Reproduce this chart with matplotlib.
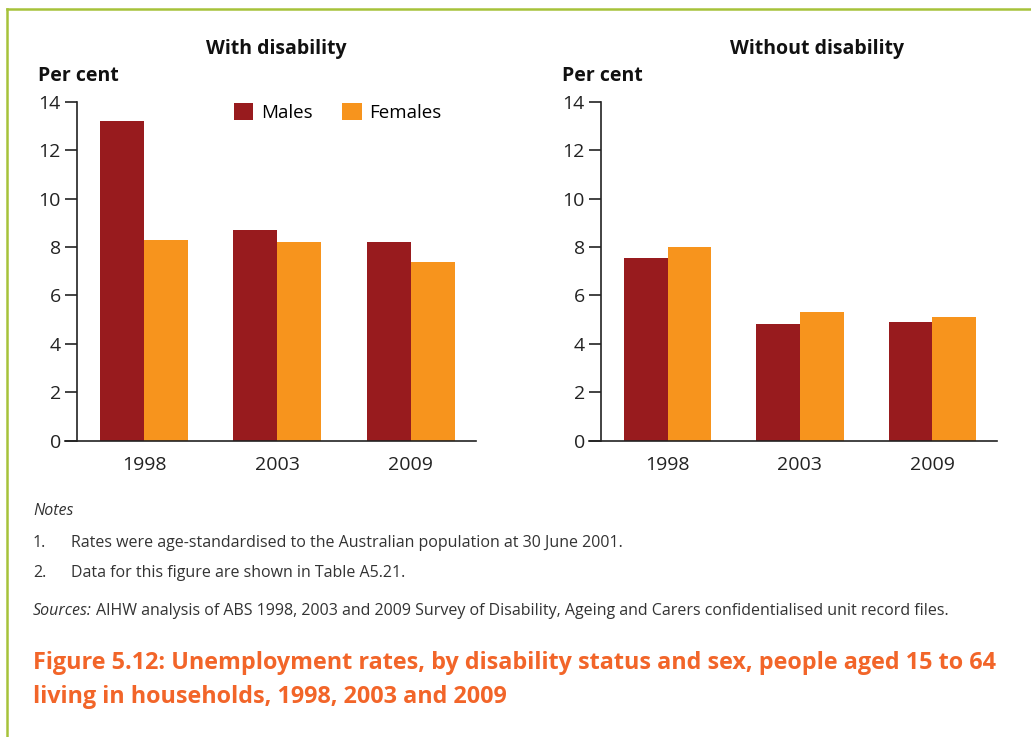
import matplotlib
matplotlib.use("Agg")
import matplotlib.pyplot as plt
from matplotlib.lines import Line2D
import numpy as np

years = ["1998", "2003", "2009"]
with_males = [13.2, 8.7, 8.2]
with_females = [8.3, 8.2, 7.4]
without_males = [7.55, 4.8, 4.9]
without_females = [8.0, 5.3, 5.1]
yticks = [0, 2, 4, 6, 8, 10, 12, 14]

MALE = "#981b1e"
FEMALE = "#f7941d"
CAPTION = "#f26529"
GREEN = "#a6c23a"
FONT = ["Open Sans", "DejaVu Sans"]
plt.rcParams["font.family"] = FONT

W, H = 1031, 737
fig = plt.figure(figsize=(W / 100, H / 100), dpi=100)


def fx(px):
    return px / W


def fy(py):
    return 1 - py / H


def panel(left_px, right_px, males, females, title, title_x, legend):
    ax = fig.add_axes([fx(left_px), fy(440.7), fx(right_px - left_px), (440.7 - 101.7) / H])
    x = np.arange(len(years))
    bw = 0.33
    ax.bar(x - bw / 2, males, bw, color=MALE, label="Males", zorder=2)
    ax.bar(x + bw / 2, females, bw, color=FEMALE, label="Females", zorder=2)
    ax.set_ylim(0, 14)
    ax.set_xlim(-0.594, 2.49)
    ax.set_yticks(yticks)
    ax.set_xticks(x)
    ax.set_xticklabels(years)
    for s in ["top", "right"]:
        ax.spines[s].set_visible(False)
    ax.spines["left"].set_position(("data", -0.505))
    ax.spines["left"].set_bounds(0, 14)
    ax.spines["left"].set_linewidth(1.2)
    ax.spines["bottom"].set_linewidth(1.2)
    ax.spines["left"].set_color("#222222")
    ax.spines["bottom"].set_color("#222222")
    ax.tick_params(axis="y", direction="out", length=8.5, width=1.2, pad=3,
                   labelsize=14, colors="#222222")
    ax.tick_params(axis="x", length=0, pad=11, labelsize=14, colors="#222222")
    ax.patch.set_alpha(0)
    fig.text(fx(title_x), fy(49), title, ha="center", va="center",
             fontsize=14, fontweight="bold", color="#111111")
    fig.text(fx(left_px - 27), fy(76), "Per cent", ha="left", va="center",
             fontsize=14, fontweight="bold", color="#111111")
    if legend:
        ax.legend(loc="upper left",
                  bbox_to_anchor=((226 - left_px) / (right_px - left_px), (440.7 - 95) / 339),
                  ncol=2, frameon=False, fontsize=13.5, handlelength=1.05,
                  handleheight=1.05, handletextpad=0.4, columnspacing=1.6,
                  borderaxespad=0)
    return ax


panel(65, 476, with_males, with_females, "With disability", 276, True)
panel(589, 997, without_males, without_females, "Without disability", 817, False)

# frame
fig.add_artist(Line2D([fx(7), fx(7)], [fy(9), 0], color=GREEN, lw=1.8))
fig.add_artist(Line2D([fx(7), 1], [fy(9), fy(9)], color=GREEN, lw=1.8))

NS = 11.5
fig.text(fx(33), fy(511), "Notes", fontsize=NS, style="italic", color="#333333", va="center")
fig.text(fx(33), fy(543), "1.", fontsize=NS, color="#333333", va="center")
fig.text(fx(71), fy(543), "Rates were age-standardised to the Australian population at 30 June 2001.",
         fontsize=NS, color="#333333", va="center")
fig.text(fx(33), fy(573), "2.", fontsize=NS, color="#333333", va="center")
fig.text(fx(71), fy(573), "Data for this figure are shown in Table A5.21.",
         fontsize=NS, color="#333333", va="center")
fig.text(fx(33), fy(611), "Sources:", fontsize=NS, style="italic", color="#333333", va="center")
fig.text(fx(96), fy(611),
         "AIHW analysis of ABS 1998, 2003 and 2009 Survey of Disability, Ageing and Carers confidentialised unit record files.",
         fontsize=NS, color="#333333", va="center")
fig.text(fx(33), fy(663), "Figure 5.12: Unemployment rates, by disability status and sex, people aged 15 to 64",
         fontsize=16.8, fontweight="bold", color=CAPTION, va="center")
fig.text(fx(33), fy(697), "living in households, 1998, 2003 and 2009",
         fontsize=16.8, fontweight="bold", color=CAPTION, va="center")

fig.savefig("out.png", dpi=100, facecolor="white")
